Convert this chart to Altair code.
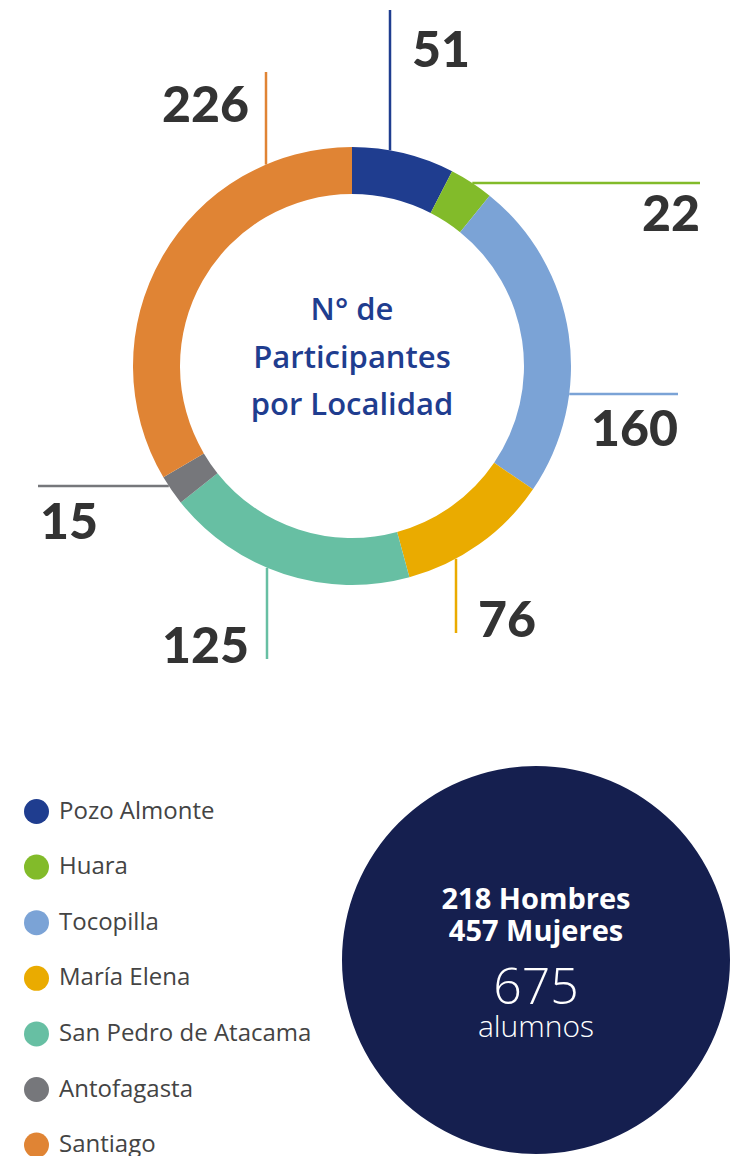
import math
import altair as alt
import pandas as pd

# --- data -------------------------------------------------------------
localidades = ["Pozo Almonte", "Huara", "Tocopilla", "María Elena",
               "San Pedro de Atacama", "Antofagasta", "Santiago"]
participantes = [51, 22, 160, 76, 125, 15, 226]
colores = ["#1f3d8f", "#82bb2a", "#7ba3d6", "#eaab00",
           "#67bfa3", "#76777b", "#e08434"]

hombres = 218
mujeres = 457
total = hombres + mujeres

titulo = ["N° de", "Participantes", "por Localidad"]

# --- layout -------------------------------------------------------------
W, H = 730, 1156
CX, CY = 352, 366          # donut centre
R_IN, R_OUT = 172, 219     # donut radii
NAVY = "#151f4f"
BUB_X, BUB_Y, BUB_D = 536, 960, 388

# leader line per slice: orientation, fixed coord, far end, label x, label baseline, align
guias = {
    "Pozo Almonte":         ("v", 390, 10, 412, 67, "left"),
    "Huara":                ("h", 183, 700, 700, 231, "right"),
    "Tocopilla":            ("h", 394, 678, 678, 446, "right"),
    "María Elena":          ("v", 456, 633, 478, 637, "left"),
    "San Pedro de Atacama": ("v", 267, 659, 162, 663, "left"),
    "Antofagasta":          ("h", 486, 38, 40, 539, "left"),
    "Santiago":             ("v", 266, 72, 162, 122, "left"),
}

X = alt.Scale(domain=[0, W], nice=False, zero=False)
Y = alt.Scale(domain=[0, H], reverse=True, nice=False, zero=False)

donut_df = pd.DataFrame({
    "localidad": localidades,
    "participantes": participantes,
    "orden": list(range(len(localidades))),
})

rows = []
for loc, val, col in zip(localidades, participantes, colores):
    kind, fixed, far, lx, ly, al = guias[loc]
    if kind == "v":
        off = math.sqrt(R_OUT ** 2 - (fixed - CX) ** 2)
        near = CY - off if far < CY else CY + off
        x1, x2, y1, y2 = fixed, fixed, near, far
    else:
        off = math.sqrt(R_OUT ** 2 - (fixed - CY) ** 2)
        near = CX - off if far < CX else CX + off
        x1, x2, y1, y2 = near, far, fixed, fixed
    rows.append(dict(localidad=loc, valor=str(val), color=col,
                     x1=x1, x2=x2, y1=y1, y2=y2, lx=lx, ly=ly, align=al))
guia_df = pd.DataFrame(rows)

donut = alt.Chart(donut_df).mark_arc(innerRadius=R_IN, outerRadius=R_OUT).encode(
    theta=alt.Theta("participantes:Q", stack=True),
    order=alt.Order("orden:Q"),
    color=alt.Color(
        "localidad:N",
        scale=alt.Scale(domain=localidades, range=colores),
        legend=alt.Legend(
            orient="none", legendX=24, legendY=799, title=None,
            symbolType="circle", symbolSize=625, symbolStrokeWidth=0,
            symbolOpacity=1, labelFont="Open Sans", labelFontSize=24,
            labelColor="#444444", labelOffset=10, rowPadding=30.6,
            padding=0, direction="vertical", labelLimit=400,
        ),
    ),
    x=alt.value(CX),
    y=alt.value(CY),
)

lineas = alt.Chart(guia_df).mark_rule(strokeWidth=2.5).encode(
    x=alt.X("x1:Q", scale=X, axis=None),
    x2="x2:Q",
    y=alt.Y("y1:Q", scale=Y, axis=None),
    y2="y2:Q",
    color=alt.Color("color:N", scale=None),
)

def etiquetas(al):
    return alt.Chart(guia_df).transform_filter(
        alt.datum.align == al
    ).mark_text(
        align=al, baseline="alphabetic", font="Lato", fontWeight=900,
        fontSize=50, color="#333333",
    ).encode(
        x=alt.X("lx:Q", scale=X, axis=None),
        y=alt.Y("ly:Q", scale=Y, axis=None),
        text="valor:N",
    )

titulo_df = pd.DataFrame({"t": titulo, "x": [CX] * 3, "y": [320, 368, 415]})
centro = alt.Chart(titulo_df).mark_text(
    align="center", baseline="alphabetic", font="Open Sans", fontWeight=600,
    fontSize=31, color="#1f3d8f",
).encode(
    x=alt.X("x:Q", scale=X, axis=None),
    y=alt.Y("y:Q", scale=Y, axis=None),
    text="t:N",
)

burbuja = alt.Chart(pd.DataFrame({"x": [BUB_X], "y": [BUB_Y]})).mark_circle(
    size=BUB_D ** 2, opacity=1, color=NAVY,
).encode(
    x=alt.X("x:Q", scale=X, axis=None),
    y=alt.Y("y:Q", scale=Y, axis=None),
)

def linea_burbuja(texto, y, size, weight):
    return alt.Chart(pd.DataFrame({"t": [texto], "x": [BUB_X], "y": [y]})).mark_text(
        align="center", baseline="alphabetic", font="Open Sans",
        fontWeight=weight, fontSize=size, color="white",
    ).encode(
        x=alt.X("x:Q", scale=X, axis=None),
        y=alt.Y("y:Q", scale=Y, axis=None),
        text="t:N",
    )

chart = alt.layer(
    donut,
    lineas,
    etiquetas("left"),
    etiquetas("right"),
    centro,
    burbuja,
    linea_burbuja(f"{hombres} Hombres", 909, 29, 700),
    linea_burbuja(f"{mujeres} Mujeres", 941, 29, 700),
    linea_burbuja(f"{total}", 1004, 50, 300),
    linea_burbuja("alumnos", 1037, 30, 300),
).properties(
    width=W, height=H, padding=0,
    autosize=alt.AutoSizeParams(type="none"),
).configure_view(stroke=None)

chart.save("out.html", embed_options={"renderer": "svg", "actions": False})
